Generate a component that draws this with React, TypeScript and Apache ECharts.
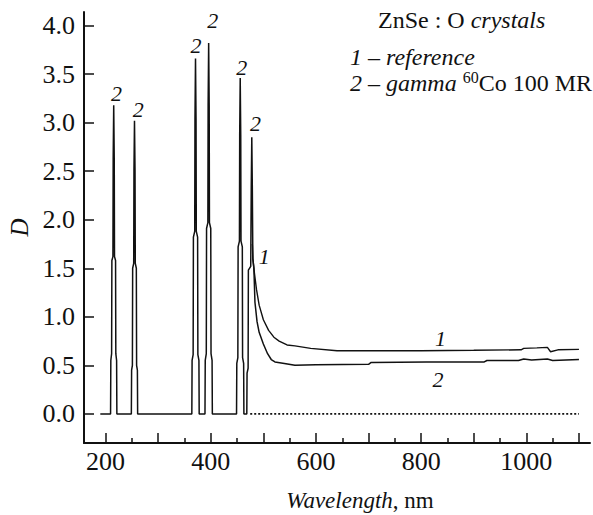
import React, { useEffect, useRef } from "react";
import * as echarts from "echarts";

// ---- Axis ticks / labels ----
const xTickValues = [200, 300, 400, 500, 600, 700, 800, 900, 1000, 1100];
const xMinorTickValues = [250, 350, 450, 550, 650, 750, 850, 950, 1050];
const xLabelValues = [200, 400, 600, 800, 1000];
const yTickValues = [0, 0.5, 1.0, 1.5, 2.0, 2.5, 3.0, 3.5, 4.0];

// ---- Curve 2 (gamma 60Co 100 MR): baseline with narrow spikes ----
const gammaSpikes: [number, number][] = [
  [190, 0], [209.5, 0], [210, 0.55], [211.5, 0.62], [212, 1.58], [214, 1.62], [214.5, 2.63], [215.5, 3.18], [216.5, 2.63], [217, 1.62], [219, 1.58], [219.5, 0.62], [221, 0.55], [221.5, 0],
  [249, 0], [249.5, 0.45], [251, 0.5], [251.5, 1.5], [253.5, 1.55], [254, 2.51], [255, 3.02], [256, 2.51], [256.5, 1.55], [258.5, 1.5], [259, 0.5], [260.5, 0.45], [261, 0],
  [364, 0], [364.5, 0.55], [366.5, 0.61], [367, 1.82], [369.5, 1.88], [370, 3.04], [371, 3.66], [372, 3.04], [372.5, 1.88], [375, 1.82], [375.5, 0.61], [377.5, 0.55], [378, 0],
  [389, 0], [389.5, 0.55], [391.5, 0.62], [392, 1.91], [394.5, 1.97], [395, 3.18], [396, 3.82], [397, 3.18], [397.5, 1.97], [400, 1.91], [400.5, 0.62], [402.5, 0.55], [403, 0],
  [449, 0], [449.5, 0.52], [451.5, 0.58], [452, 1.72], [454.5, 1.78], [455, 2.87], [456, 3.46], [457, 2.87], [457.5, 1.78], [460, 1.72], [460.5, 0.58], [462.5, 0.52], [463, 0],
  [468.5, 0], [469, 0.42], [471, 0.47], [471.5, 1.48], [476, 1.52], [477, 2.34], [478, 2.85], [479, 2.34], [480, 1.6],
];
// ---- Curve 2: absorption edge and plateau ----
const gammaEdge: [number, number][] = [
  [482, 1.5], [484, 1.15], [488, 0.95], [492, 0.84], [500, 0.72], [508, 0.62], [515, 0.56], [522, 0.535],
  [540, 0.52], [560, 0.5], [600, 0.505], [700, 0.51], [705, 0.53], [810, 0.535], [920, 0.535], [925, 0.55],
  [985, 0.55], [995, 0.565], [1010, 0.555], [1040, 0.565], [1050, 0.55], [1100, 0.56],
];
// ---- Curve 1 (reference) ----
const referenceCurve: [number, number][] = [
  [479, 1.75], [480, 1.6], [483, 1.45], [487, 1.28], [492, 1.12], [500, 0.97], [510, 0.86], [520, 0.79],
  [530, 0.75], [545, 0.71], [560, 0.7], [590, 0.675], [640, 0.65], [700, 0.65], [800, 0.65], [900, 0.655],
  [990, 0.66], [995, 0.675], [1020, 0.68], [1040, 0.685], [1046, 0.64], [1060, 0.66], [1100, 0.665],
];
// ---- Dotted zero line ----
const zeroLine: [number, number][] = [[475, 0], [1100, 0]];

// ---- Curve number labels (anchored in data coordinates) ----
const gammaLabelAnchors: [number, number][] = [
  [221, 3.3], [262, 3.14], [372, 3.79], [404, 4.05], [459, 3.57], [485, 2.99], [832, 0.35],
];
const referenceLabelAnchors: [number, number][] = [[501.5, 1.62], [837, 0.78]];

const SERIF = "Liberation Serif";
const INK = "#111111";

function labelMarks(anchors: [number, number][], text: string) {
  return {
    symbol: "rect",
    symbolSize: 1,
    itemStyle: { color: "rgba(0,0,0,0)" },
    label: {
      show: true,
      position: "inside",
      formatter: text,
      color: INK,
      fontFamily: SERIF,
      fontStyle: "italic",
      fontSize: 22,
    },
    data: anchors.map((a) => ({ coord: a })),
  };
}

export default function App() {
  const ref = useRef<HTMLDivElement>(null);
  useEffect(() => {
    if (!ref.current) return;
    const chart = echarts.init(ref.current, undefined, { renderer: "svg" });
    chart.setOption({
      animation: false,
      backgroundColor: "#ffffff",
      textStyle: { fontFamily: SERIF },
      grid: { left: 84, right: 3, top: 12, bottom: 72, containLabel: false, outerBoundsMode: "none" },
      xAxis: [
        {
          type: "value",
          min: 159,
          max: 1121,
          axisLine: { show: true, onZero: false, lineStyle: { color: INK, width: 2 } },
          axisTick: { show: true, inside: true, length: 10, lineStyle: { color: INK, width: 1.5 }, customValues: xTickValues },
          axisLabel: {
            customValues: xLabelValues,
            formatter: (v: number) => String(v),
            color: INK,
            fontFamily: SERIF,
            fontSize: 26,
            margin: 5,
          },
          splitLine: { show: false },
        },
        {
          type: "value",
          min: 159,
          max: 1121,
          position: "bottom",
          axisLine: { show: false, onZero: false },
          axisTick: { show: true, inside: true, length: 5, lineStyle: { color: INK, width: 1.5 }, customValues: xMinorTickValues },
          axisLabel: { show: false },
          splitLine: { show: false },
        },
      ],
      yAxis: {
        type: "value",
        min: -0.3,
        max: 4.14,
        name: "D",
        nameLocation: "middle",
        nameGap: 52,
        nameRotate: 90,
        nameTextStyle: { color: INK, fontFamily: SERIF, fontStyle: "italic", fontSize: 25 },
        axisLine: { show: true, onZero: false, lineStyle: { color: INK, width: 2 } },
        axisTick: { show: true, inside: true, length: 10, lineStyle: { color: INK, width: 1.5 }, customValues: yTickValues },
        axisLabel: {
          customValues: yTickValues,
          formatter: (v: number) => v.toFixed(1),
          color: INK,
          fontFamily: SERIF,
          fontSize: 26,
          margin: 9,
        },
        splitLine: { show: false },
      },
      series: [
        {
          name: "2 – gamma 60Co 100 MR",
          type: "line",
          data: [...gammaSpikes, ...gammaEdge],
          showSymbol: false,
          lineStyle: { color: INK, width: 1.5 },
          markPoint: labelMarks(gammaLabelAnchors, "2"),
        },
        {
          name: "1 – reference",
          type: "line",
          data: referenceCurve,
          showSymbol: false,
          lineStyle: { color: INK, width: 1.4 },
          markPoint: labelMarks(referenceLabelAnchors, "1"),
        },
        {
          name: "zero",
          type: "line",
          data: zeroLine,
          showSymbol: false,
          lineStyle: { color: INK, width: 1.6, type: [2, 2] },
        },
      ],
      graphic: [
        {
          type: "text",
          x: 360,
          y: 500,
          style: {
            text: "{i|Wavelength}{n|, nm}",
            textAlign: "center",
            textVerticalAlign: "middle",
            rich: {
              i: { fontFamily: SERIF, fontStyle: "italic", fontSize: 23, fill: INK },
              n: { fontFamily: SERIF, fontSize: 23, fill: INK },
            },
          },
        },
        {
          type: "text",
          x: 378,
          y: 20,
          style: {
            text: "{n|ZnSe : O }{i|crystals}",
            textAlign: "left",
            textVerticalAlign: "middle",
            rich: {
              i: { fontFamily: SERIF, fontStyle: "italic", fontSize: 24, fill: INK },
              n: { fontFamily: SERIF, fontSize: 24, fill: INK },
            },
          },
        },
        {
          type: "text",
          x: 350,
          y: 57,
          style: {
            text: "{i|1 – reference}",
            textAlign: "left",
            textVerticalAlign: "middle",
            rich: {
              i: { fontFamily: SERIF, fontStyle: "italic", fontSize: 24, fill: INK },
            },
          },
        },
        {
          type: "text",
          x: 350,
          y: 83,
          style: {
            text: "{i|2 – gamma }{s|60}{n|Co 100 MR}",
            textAlign: "left",
            textVerticalAlign: "middle",
            rich: {
              i: { fontFamily: SERIF, fontStyle: "italic", fontSize: 24, fill: INK, lineHeight: 28 },
              s: { fontFamily: SERIF, fontSize: 16, fill: INK, verticalAlign: "top", lineHeight: 28 },
              n: { fontFamily: SERIF, fontSize: 24, fill: INK, lineHeight: 28 },
            },
          },
        },
      ],
    });
    return () => chart.dispose();
  }, []);
  return (
    <div
      ref={ref}
      style={{ position: "absolute", left: 0, top: 0, width: 593, height: 515, background: "#fff" }}
    />
  );
}
